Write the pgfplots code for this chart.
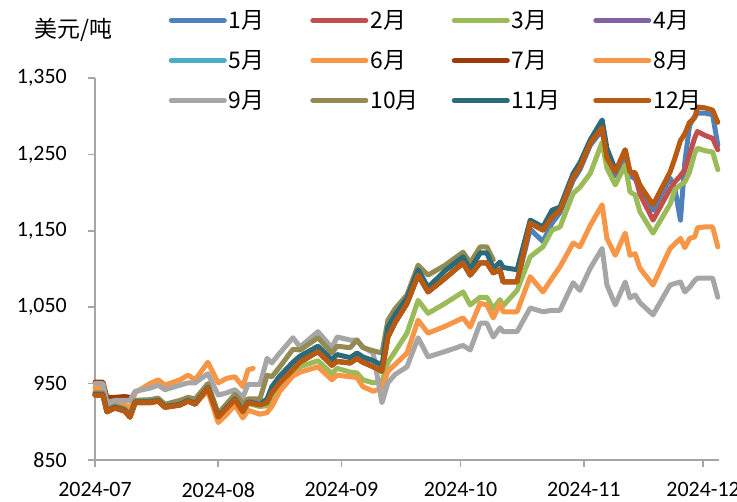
\documentclass[border=0pt]{standalone}
\usepackage{fontspec}
\setmainfont{Carlito}
\newfontfamily\cjk{Noto Sans CJK SC}
\usepackage{pgfplots}
\usepackage{pgfplotstable}
\pgfplotsset{compat=1.18}

\definecolor{AxisGray}{HTML}{A6A6A6}
\definecolor{cA}{HTML}{4F81BD}
\definecolor{cB}{HTML}{C0504D}
\definecolor{cC}{HTML}{9BBB59}
\definecolor{cD}{HTML}{8064A2}
\definecolor{cE}{HTML}{4BACC6}
\definecolor{cF}{HTML}{F79646}
\definecolor{cG}{HTML}{9E3B0A}
\definecolor{cH}{HTML}{F79646}
\definecolor{cI}{HTML}{A6A6A6}
\definecolor{cJ}{HTML}{948A54}
\definecolor{cK}{HTML}{2A6A7A}
\definecolor{cL}{HTML}{B85A10}

% day 0 = 2024-07-01; nan = no quote
\pgfplotstableread{
d s1 s2 s3 s6 s7 s8 s9 s10 s11 s12
0 935 935 937 940 952 945 950 938 936 935
2.0 935 935 937 940 952 945 950 938 936 935
3.0 913 913 915 918 932 922 925 916 914 913
5.0 918 918 920 922 932 922 928 921 919 918
7.5 914 914 916 922 933 922 928 917 915 914
8.8 906 906 908 911 932 918 928 909 907 906
10.1 925 925 927 928 nan 938 940 928 926 925
13.8 925 925 927 928 nan 950 944 929 926 925
15.9 927 927 929 930 nan 955 948 931 928 927
17.6 919 919 921 922 nan 948 942 923 920 919
21.4 922 922 924 925 nan 955 948 928 923 922
23.4 927 927 929 930 nan 961 951 932 928 927
25.2 923 923 925 925 nan 955 951 930 924 923
28.4 944 944 946 940 nan 978 963 950 945 944
31.0 906 906 907 899 nan 951 935 911 907 906
33.2 918 918 919 910 nan 957 938 924 919 918
35.2 929 929 930 922 nan 959 942 936 930 929
37.2 913 913 914 905 nan 946 932 924 914 913
38.5 925 925 924 915 nan 968 949 930 926 925
39.8 nan nan nan nan nan 970 nan nan nan nan
41.5 922 922 920 910 nan nan 949 930 923 922
43.3 925 925 921 912 nan nan 983 961 930 925
44.5 938 938 929 920 nan nan 977 959 946 938
46.5 951 951 946 940 nan nan 990 972 960 951
49.8 968 968 966 960 nan nan 1010 995 978 968
51.6 978 978 972 965 nan nan 998 994 986 978
56.1 992 992 980 972 nan nan 1018 1010 999 992
59.6 974 974 963 955 nan nan 997 990 981 974
60.9 979 979 970 961 nan nan 1011 999 988 979
64.2 977 977 965 959 nan nan 1007 997 984 977
65.9 983 983 964 958 nan nan 1007 1007 990 983
67.4 978 978 955 946 nan nan 998 997 985 978
70.0 972 972 951 940 nan nan 990 993 980 972
72.2 966 966 953 944 nan nan 925 990 974 966
73.7 1011 1011 978 966 nan nan 951 1033 1024 1011
75.5 1030 1030 992 975 nan nan 962 1048 1040 1030
78.5 1055 1055 1016 990 nan nan 972 1066 1062 1055
81.3 1092 1092 1059 1033 nan nan 1010 1105 1099 1092
83.8 1070 1070 1042 1016 nan nan 985 1092 1076 1070
88.1 1088 1088 1055 1025 nan nan 992 1105 1098 1088
92.6 1108 1108 1070 1036 nan nan 1000 1122 1116 1108
94.4 1092 1092 1053 1024 nan nan 994 1108 1099 1092
96.9 1108 1108 1063 1055 nan nan 1029 1129 1121 1108
98.6 1108 1108 1063 1053 nan nan 1029 1129 1121 1108
100.2 1095 1095 1048 1036 nan nan 1011 1112 1101 1095
101.9 1099 1099 1060 1055 nan nan 1023 nan 1109 1099
102.7 1083 1083 1052 1044 nan nan 1018 nan 1102 1083
106.2 1083 1083 1072 1044 nan nan 1018 nan 1099 1083
109.5 1152 1160 1116 1090 nan nan 1049 nan 1164 1160
112.7 1136 1151 1129 1070 nan nan 1044 nan 1155 1151
115.0 1160 1168 1151 1088 nan nan 1046 nan 1177 1168
117.0 1174 1177 1155 1103 nan nan 1046 nan 1181 1177
120.3 1216 1220 1199 1134 nan nan 1082 nan 1225 1220
122.0 1230 1233 1207 1129 nan nan 1072 nan 1239 1233
124.6 1262 1265 1225 1157 nan nan 1101 nan 1269 1265
127.6 1282 1285 1266 1184 nan nan 1127 nan 1295 1285
128.8 1240 1245 1232 1140 nan nan 1079 nan 1258 1245
130.9 1222 1227 1210 1118 nan nan 1053 nan 1230 1227
133.4 1250 1256 1236 1147 nan nan 1083 nan nan 1256
134.6 1222 1227 1201 1118 nan nan 1062 nan nan 1227
135.9 1218 1222 1197 1120 nan nan 1066 nan nan 1226
137.1 1205 1198 1175 1101 nan nan 1056 nan nan 1210
140.4 1177 1164 1147 1079 nan nan 1040 nan nan 1184
144.7 1219 1205 1185 1127 nan nan 1079 nan nan 1227
145.9 1205 1214 1204 1133 nan nan 1081 nan nan 1245
147.3 1164 1222 1210 1140 nan nan 1083 nan nan 1268
148.4 1240 1230 1214 1128 nan nan 1070 nan nan 1277
149.6 1288 1250 1227 1140 nan nan 1076 nan nan 1292
150.9 1300 1272 1252 1142 nan nan 1085 nan nan 1298
151.6 1304 1280 1258 1154 nan nan 1088 nan nan 1312
153.4 1304 1275 1255 1155 nan nan 1088 nan nan 1311
155.4 1302 1271 1253 1155 nan nan 1088 nan nan 1308
156.7 1262 1256 1230 1129 nan nan 1063 nan nan 1292
}\prices

\newcommand\legtext[1]{\makebox[79.5bp][l]{#1}}

\begin{document}
\begin{tikzpicture}
\begin{axis}[
  scale only axis,
  width=624bp,height=382bp,
  xmin=0,xmax=157,ymin=850,ymax=1350,
  axis x line*=bottom,axis y line*=left,
  axis line style={draw=AxisGray,line width=1.5bp},
  tick style={draw=AxisGray,line width=1.5bp},
  tick align=outside,major tick length=7bp,
  xtick={0,31,62,92,123,153},
  xticklabels={2024-07,2024-08,2024-09,2024-10,2024-11,2024-12},
  ytick={850,950,1050,1150,1250,1350},
  yticklabels={850,950,{1,050},{1,150},{1,250},{1,350}},
  ticklabel style={font=\fontsize{22}{26}\selectfont,inner sep=0pt},
  yticklabel style={anchor=east,xshift=-21bp},
  xticklabel style={anchor=north,yshift=-15bp},
  title={\cjk 美元/吨},
  title style={at={(axis description cs:-0.034,1.11)},anchor=center,font=\fontsize{23}{26}\selectfont},
  clip=false,
  every axis plot/.append style={line width=5bp,line join=round,line cap=round,no marks},
  legend columns=4,
  legend image code/.code={\draw[#1,line cap=round] (0bp,0bp) -- (53bp,0bp);},
  legend style={at={(axis description cs:0.118,1.182)},anchor=north west,draw=none,fill=none,
    font=\fontsize{23}{26}\selectfont\cjk,inner sep=0pt,row sep=16.5bp,
    nodes={inner sep=2bp}},
  legend cell align=left,
]
\addplot[cA] table[x=d,y=s1]{\prices};
\addlegendentry{\legtext{1月}}
\addplot[cB] table[x=d,y=s2]{\prices};
\addlegendentry{\legtext{2月}}
\addplot[cC] table[x=d,y=s3]{\prices};
\addlegendentry{\legtext{3月}}
\addlegendimage{cD,line width=5bp}
\addlegendentry{\legtext{4月}}
\addlegendimage{cE,line width=5bp}
\addlegendentry{\legtext{5月}}
\addplot[cF] table[x=d,y=s6]{\prices};
\addlegendentry{\legtext{6月}}
\addplot[cG] table[x=d,y=s7]{\prices};
\addlegendentry{\legtext{7月}}
\addplot[cH] table[x=d,y=s8]{\prices};
\addlegendentry{\legtext{8月}}
\addplot[cI] table[x=d,y=s9]{\prices};
\addlegendentry{\legtext{9月}}
\addplot[cJ] table[x=d,y=s10]{\prices};
\addlegendentry{\legtext{10月}}
\addplot[cK] table[x=d,y=s11]{\prices};
\addlegendentry{\legtext{11月}}
\addplot[cL] table[x=d,y=s12]{\prices};
\addlegendentry{\legtext{12月}}
\end{axis}
\pgfresetboundingbox
\path[use as bounding box] (-95bp,-42bp) rectangle (642bp,460bp);
\end{tikzpicture}
\end{document}
